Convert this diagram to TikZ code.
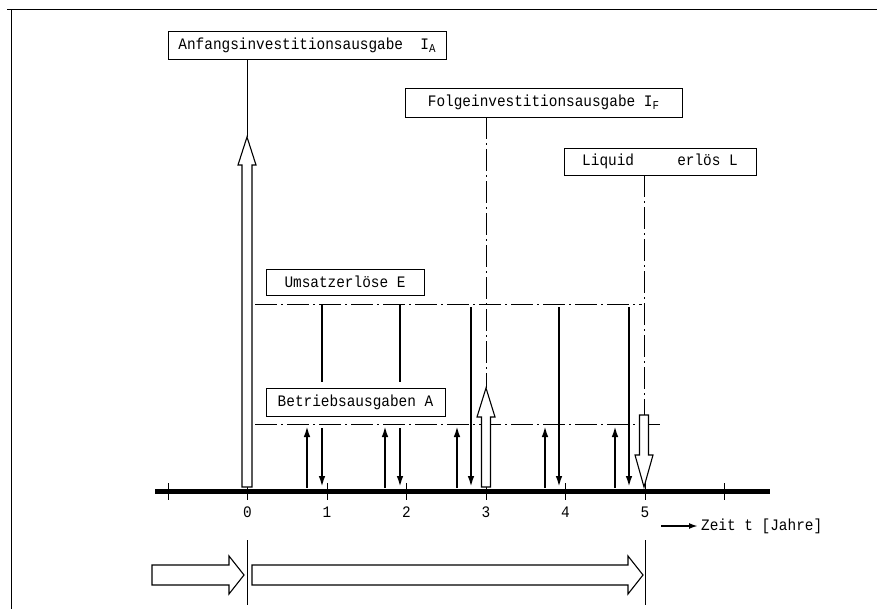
\documentclass[tikz,border=0pt]{standalone}
\usepackage{fontspec}
\newfontfamily\plotfont[FakeStretch=0.9]{Liberation Mono}
\usetikzlibrary{arrows.meta}
\newcommand{\lowsub}[1]{\raisebox{-0.4ex}{\fontsize{12}{12}\selectfont #1}}
\begin{document}
\begin{tikzpicture}[x=1pt,y=-1pt,
  lbl/.style={draw,line width=0.9pt,fill=white,inner sep=0pt,font=\plotfont\fontsize{16}{18}\selectfont},
  txt/.style={font=\plotfont\fontsize{16}{18}\selectfont,inner sep=0pt},
  dashdot/.style={line width=1pt,dash pattern=on 22pt off 4pt on 2pt off 4pt},
  thinline/.style={line width=0.8pt},
  flowline/.style={line width=2.6pt},
  flow/.style={line width=2.6pt,-{Latex[length=12pt,width=6.5pt]}},
  hollow/.style={draw,line width=1.1pt,fill=white,line join=miter},
  axistick/.style={line width=0.8pt}
]
\useasboundingbox (0,0) rectangle (877,609);

% frame (top and left)
\coordinate (fa) at (7,10);
\coordinate (fb) at (877,10);
\coordinate (fc) at (11,10);
\coordinate (fd) at (11,609);
\draw[line width=1pt] (fa) -- (fb);
\draw[line width=1pt] (fc) -- (fd);

% level lines E and A
\coordinate (e1) at (255,304); \coordinate (e2) at (642,304);
\coordinate (a1) at (255,424); \coordinate (a2) at (660,424);
\draw[dashdot] (e1) -- (e2);
\draw[dashdot] (a1) -- (a2);

% axis
\coordinate (ax1) at (155,491); \coordinate (ax2) at (770,491);
\draw[line width=5pt] (ax1) -- (ax2);
\foreach \k in {-1,...,6}{
  \coordinate (tk\k) at ({247.5+79.5*\k},491);
  \draw[axistick] (tk\k) ++(0,-8) -- ++(0,17);
}
\foreach \k in {0,...,5}{
  \node[txt] (lab\k) at ({247.5+79.5*\k},512) {\k};
}
\coordinate (za) at (661,526);
\node[txt,anchor=west] (zeit) at (701,526) {Zeit t [Jahre]};
\draw[line width=2pt,-{Latex[length=9pt,width=6pt]}] (za) -- ([xshift=-3pt]zeit.west);

% payment flows: up arrows (Betriebsausgaben)
\foreach \x in {307,385,457,545,615}{
  \coordinate (ub\x) at (\x,488);
  \coordinate (ut\x) at (\x,425);
  \draw[flow] (ub\x) -- (ut\x);
}
% down arrows (Umsatzerloese)
\foreach \x in {322,400}{
  \coordinate (dt\x) at (\x,304);
  \coordinate (dm\x) at (\x,382);
  \coordinate (dn\x) at (\x,428);
  \coordinate (db\x) at (\x,488);
  \draw[flowline] (dt\x) -- (dm\x);
  \draw[flow] (dn\x) -- (db\x);
}
\foreach \x in {471,559,629}{
  \coordinate (dt\x) at (\x,307);
  \coordinate (db\x) at (\x,488);
  \draw[flow] (dt\x) -- (db\x);
}

% hollow arrow at 0 (Anfangsinvestition)
\draw[hollow] (242,487) -- (242,165) -- (238,165) -- (247,137) coordinate (tip0)
  -- (256,165) -- (252,165) -- (252,487) -- cycle;
% hollow arrow at 3 (Folgeinvestition)
\draw[hollow] (481.5,487) -- (481.5,417) -- (477,417) -- (486,388) coordinate (tip3)
  -- (495,417) -- (490.5,417) -- (490.5,487) -- cycle;
% hollow down arrow at 5 (Liquidationserloes)
\draw[hollow] (639.5,415) -- (648.5,415) -- (648.5,455) -- (653,455)
  -- (644,487) -- (635,455) -- (639.5,455) -- cycle;
\coordinate (top5c) at (644,415);

% labels
\node[lbl,minimum width=278pt,minimum height=28pt] (IA) at (307,45)
  {Anfangsinvestitionsausgabe\ \ I\lowsub{A}};
\node[lbl,minimum width=277pt,minimum height=29pt] (IF) at (543.5,102.5)
  {Folgeinvestitionsausgabe I\lowsub{F}};
\node[lbl,minimum width=192pt,minimum height=27pt] (LQ) at (660,161.5)
  {Liquid\ \ \ \ \ erlös L};
\node[lbl,minimum width=158pt,minimum height=26pt] (UE) at (345,282)
  {Umsatzerlöse E};
\node[lbl,minimum width=179pt,minimum height=28pt] (BA) at (355.5,402)
  {Betriebsausgaben A};

\draw[thinline] (tip0 |- IA.south) -- (tip0);
\draw[dashdot,line width=0.8pt] (tip3 |- IF.south) -- (tip3);
\draw[dashdot,line width=0.8pt] (top5c |- LQ.south) -- (top5c);

% bottom: phase arrows
\coordinate (v0a) at (247,540); \coordinate (v0b) at (247,605);
\coordinate (v5a) at (645,540); \coordinate (v5b) at (645,605);
\draw[thinline] (v0a) -- (v0b);
\draw[thinline] (v5a) -- (v5b);
\draw[hollow] (152,565) -- (229,565) -- (229,556) -- (244,575) -- (229,594)
  -- (229,585) -- (152,585) -- cycle;
\draw[hollow] (252,565) -- (628,565) -- (628,556) -- (643,575) -- (628,594)
  -- (628,585) -- (252,585) -- cycle;
\end{tikzpicture}
\end{document}
